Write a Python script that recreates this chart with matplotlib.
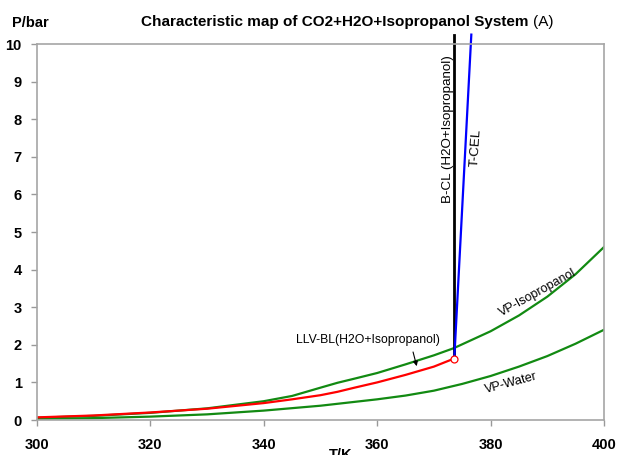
import matplotlib
matplotlib.use("Agg")
import matplotlib.pyplot as plt

# ---- data ----
t_iso = [300, 310, 320, 330, 340, 345, 350, 353, 356, 360, 365, 370, 373.5, 380, 385, 390, 395, 400]
p_iso = [0.06, 0.11, 0.19, 0.31, 0.50, 0.64, 0.86, 0.99, 1.10, 1.25, 1.48, 1.72, 1.91, 2.36, 2.78, 3.28, 3.88, 4.60]

t_water = [300, 310, 320, 330, 340, 350, 360, 365, 370, 375, 380, 385, 390, 395, 400]
p_water = [0.03, 0.05, 0.09, 0.15, 0.25, 0.38, 0.55, 0.65, 0.78, 0.96, 1.17, 1.42, 1.70, 2.03, 2.40]

t_llv = [300, 310, 320, 330, 340, 345, 350, 353, 356, 360, 365, 370, 373.5]
p_llv = [0.07, 0.12, 0.20, 0.30, 0.45, 0.55, 0.66, 0.75, 0.86, 1.00, 1.20, 1.42, 1.63]

t_bcl = [373.5, 373.5]
p_bcl = [1.70, 10.25]

t_tcel = [373.6, 376.6]
p_tcel = [1.65, 10.25]

t_point = [373.5]
p_point = [1.63]

x_ticks = [300, 320, 340, 360, 380, 400]
y_ticks = list(range(0, 11))

FONT = ['Liberation Sans', 'DejaVu Sans']

fig = plt.figure(figsize=(6.2, 4.55), dpi=100)
ax = fig.add_axes([37 / 620, 1 - 420 / 455, (604 - 37) / 620, (420 - 44) / 455])

green = '#128a12'
ax.plot(t_water, p_water, color=green, lw=1.6)
ax.plot(t_iso, p_iso, color=green, lw=1.6)
ax.plot(t_llv, p_llv, color='#ff0000', lw=1.6)
ax.plot(t_bcl, p_bcl, color='black', lw=2.0, clip_on=False)
ax.plot(t_tcel, p_tcel, color='#0000ff', lw=1.6, clip_on=False)
ax.plot(t_point, p_point, marker='o', ms=5, mfc='white', mec='#ff0000', mew=0.9, ls='none', zorder=5)

ax.set_xlim(300, 400)
ax.set_ylim(0, 10)
ax.set_xticks(x_ticks)
ax.set_yticks(y_ticks)
ax.set_xticklabels([str(v) for v in x_ticks], fontsize=10.5, fontweight='bold', family=FONT)
ax.set_yticklabels([str(v) for v in y_ticks], fontsize=10.5, fontweight='bold', family=FONT)
ax.tick_params(axis='x', direction='out', length=4, width=1, color='#999999', pad=9)
ax.tick_params(axis='y', direction='out', length=4, width=1, color='#999999', pad=7)
for s in ax.spines.values():
    s.set_color('#a6a6a6')
    s.set_linewidth(1.2)

# labels on the chart
ax.text(372.4, 7.75, 'B-CL (H2O+Isopropanol)', rotation=90, ha='center', va='center',
        fontsize=9.6, family=FONT)
ax.text(377.5, 7.25, 'T-CEL', rotation=86, ha='center', va='center', fontsize=9.6, family=FONT)
ax.text(388.4, 3.38, 'VP-Isopropanol', rotation=29, ha='center', va='center', fontsize=9, family=FONT)
ax.text(383.6, 0.98, 'VP-Water', rotation=15, ha='center', va='center', fontsize=9, family=FONT)
ax.text(358.4, 2.13, 'LLV-BL(H2O+Isopropanol)', ha='center', va='center', fontsize=8.8, family=FONT)
ax.annotate('', xy=(367.1, 1.36), xytext=(366.2, 1.88),
            arrowprops=dict(arrowstyle='-|>', color='black', lw=0.8, mutation_scale=7))

# titles
t1 = fig.text(141 / 620, 1 - 22 / 455, 'Characteristic map of CO2+H2O+Isopropanol System',
              ha='left', va='center', fontsize=11, fontweight='bold', family=FONT)
fig.canvas.draw()
bb = t1.get_window_extent()
fig.text((bb.x1 + 4) / 620, 1 - 22 / 455, '(A)', ha='left', va='center', fontsize=11, family=FONT)
fig.text(12 / 620, 1 - 23 / 455, 'P/bar', ha='left', va='center', fontsize=10.5,
         fontweight='bold', family=FONT)
fig.text(341 / 620, 1 - 448 / 455, 'T/K', ha='center', va='top', fontsize=10.5,
         fontweight='bold', family=FONT)

fig.savefig('out.png', dpi=100)
